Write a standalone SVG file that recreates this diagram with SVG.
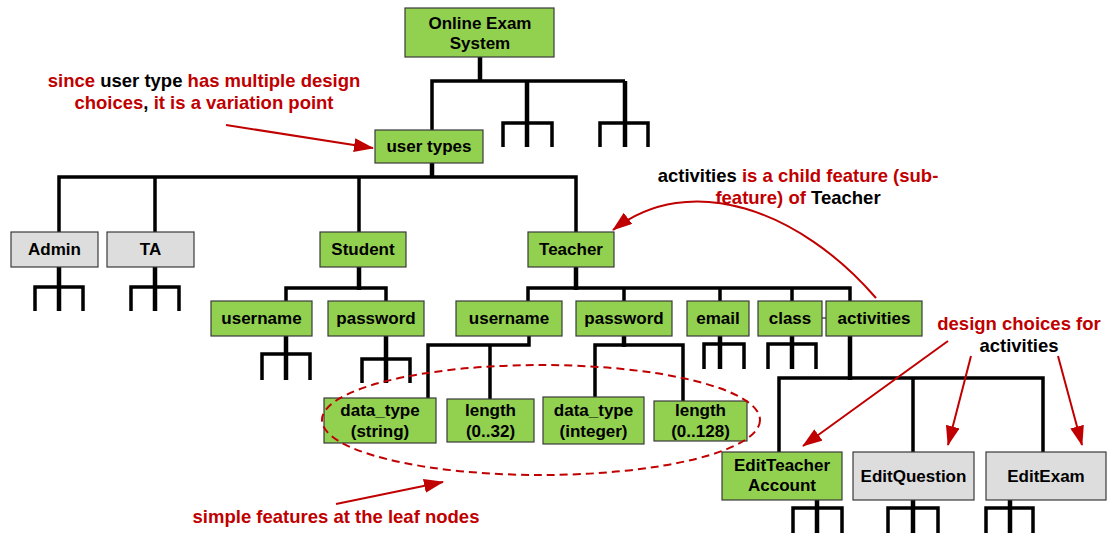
<svg xmlns="http://www.w3.org/2000/svg" width="1107" height="533" viewBox="0 0 1107 533">
  <style>
    .box rect { stroke: #3a3a3a; stroke-width: 1.2; }
    .opt rect { fill: #92D050; }
    .alt rect { fill: #DDDDDD; }
    .box text { font-family: "Liberation Sans", Arial, sans-serif; font-weight: bold; font-size: 17px; fill: #000; text-anchor: middle; }
    .links path { fill: none; stroke: #000; stroke-width: 3.5; stroke-linejoin: miter; stroke-linecap: butt; }
    .links path.stem { stroke-width: 4.5; }
    .links path.thin { stroke-width: 1; }
    .note { font-family: "Liberation Sans", Arial, sans-serif; font-weight: bold; font-size: 18.5px; fill: #C00000; text-anchor: middle; }
    .note .k { fill: #000; }
    .callout path { fill: none; stroke: #C00000; stroke-width: 2; }
  </style>
  <defs>
    <marker id="redhead" viewBox="0 0 20 14" refX="19" refY="7" markerWidth="20" markerHeight="14" markerUnits="userSpaceOnUse" orient="auto">
      <path d="M0,0 L20,7 L0,14 Z" fill="#C00000"/>
    </marker>
  </defs>
  <rect width="1107" height="533" fill="#fff"/>

  <!-- tree connectors -->
  <g id="connectors" class="links">
    <!-- root -->
    <path class="stem" d="M480,57 V81"/>
    <path d="M432,130 V81 H625"/>
    <path class="stem" d="M527,81 V147"/>
    <path d="M503,147 V123 H552 V147"/>
    <path class="stem" d="M625,81 V147"/>
    <path d="M600,147 V123 H648 V147"/>
    <!-- user types -->
    <path class="stem" d="M432,163 V177"/>
    <path d="M59,232 V177 H576 V232"/>
    <path d="M155,177 V232"/>
    <path d="M359,177 V232"/>
    <!-- Admin / TA -->
    <path class="stem" d="M59,267 V311"/>
    <path d="M35,311 V287 H83 V311"/>
    <path class="stem" d="M155,267 V311"/>
    <path d="M131,311 V287 H179 V311"/>
    <!-- Student -->
    <path class="stem" d="M359,267 V290"/>
    <path d="M286,301 V288 H386 V301"/>
    <path class="stem" d="M286,336 V380"/>
    <path d="M262,380 V354 H310 V380"/>
    <path class="stem" d="M386,336 V383"/>
    <path d="M362,383 V359 H410 V383"/>
    <!-- Teacher -->
    <path class="stem" d="M576,267 V290"/>
    <path d="M528,301 V288 H850 V301"/>
    <path d="M624,288 V301"/>
    <path d="M720,288 V301"/>
    <path d="M792,288 V301"/>
    <!-- Teacher username / password -->
    <path d="M529,336 V345 H428 V398"/>
    <path d="M490,345 V399"/>
    <path class="stem" d="M624,336 V347"/>
    <path d="M595,397 V345 H683 V401"/>
    <!-- email / class -->
    <path class="stem" d="M720,336 V369"/>
    <path d="M704,369 V344 H744 V369"/>
    <path class="stem" d="M792,336 V369"/>
    <path d="M768,369 V344 H816 V369"/>
    <path class="thin" d="M822,318 H826"/>
    <!-- activities -->
    <path class="stem" d="M850,336 V380"/>
    <path d="M779,452 V378 H1043 V452"/>
    <path d="M913,378 V452"/>
    <!-- activity children -->
    <path class="stem" d="M817,500 V533"/>
    <path d="M793,533 V508 H842 V533"/>
    <path class="stem" d="M913,500 V533"/>
    <path d="M888,533 V508 H938 V533"/>
    <path class="stem" d="M1010,500 V533"/>
    <path d="M986,533 V508 H1033 V533"/>
  </g>

  <!-- feature nodes -->
  <g id="node-root" class="box opt">
    <rect x="405" y="8" width="149" height="49"/>
    <text x="480" y="29">Online Exam</text>
    <text x="480" y="49">System</text>
  </g>
  <g id="node-user-types" class="box opt">
    <rect x="375" y="130" width="108" height="33"/>
    <text x="429" y="152">user types</text>
  </g>
  <g id="node-admin" class="box alt">
    <rect x="11" y="232" width="87" height="35"/>
    <text x="54.5" y="255">Admin</text>
  </g>
  <g id="node-ta" class="box alt">
    <rect x="107" y="232" width="87" height="35"/>
    <text x="150.5" y="255">TA</text>
  </g>
  <g id="node-student" class="box opt">
    <rect x="320" y="232" width="86" height="35"/>
    <text x="363" y="255">Student</text>
  </g>
  <g id="node-teacher" class="box opt">
    <rect x="528" y="232" width="86" height="35"/>
    <text x="571" y="255">Teacher</text>
  </g>
  <g id="node-student-username" class="box opt">
    <rect x="211" y="301" width="101" height="35"/>
    <text x="261.5" y="324">username</text>
  </g>
  <g id="node-student-password" class="box opt">
    <rect x="328" y="301" width="96" height="35"/>
    <text x="376" y="324">password</text>
  </g>
  <g id="node-teacher-username" class="box opt">
    <rect x="456" y="301" width="106" height="35"/>
    <text x="509" y="324">username</text>
  </g>
  <g id="node-teacher-password" class="box opt">
    <rect x="576" y="301" width="96" height="35"/>
    <text x="624" y="324">password</text>
  </g>
  <g id="node-email" class="box opt">
    <rect x="687" y="301" width="62" height="35"/>
    <text x="718" y="324">email</text>
  </g>
  <g id="node-class" class="box opt">
    <rect x="758" y="301" width="64" height="35"/>
    <text x="790" y="324">class</text>
  </g>
  <g id="node-activities" class="box opt">
    <rect x="826" y="301" width="96" height="35"/>
    <text x="874" y="324">activities</text>
  </g>
  <g id="node-datatype-string" class="box opt">
    <rect x="324" y="398" width="112" height="45"/>
    <text x="380" y="416">data_type</text>
    <text x="380" y="437">(string)</text>
  </g>
  <g id="node-length-32" class="box opt">
    <rect x="447" y="399" width="87" height="43"/>
    <text x="490.5" y="416">length</text>
    <text x="490.5" y="437">(0..32)</text>
  </g>
  <g id="node-datatype-integer" class="box opt">
    <rect x="543" y="397" width="101" height="47"/>
    <text x="593.5" y="416">data_type</text>
    <text x="593.5" y="437">(integer)</text>
  </g>
  <g id="node-length-128" class="box opt">
    <rect x="654" y="401" width="93" height="40"/>
    <text x="700.5" y="416">length</text>
    <text x="700.5" y="437">(0..128)</text>
  </g>
  <g id="node-edit-teacher-account" class="box opt">
    <rect x="722" y="452" width="120" height="48"/>
    <text x="782" y="471">EditTeacher</text>
    <text x="782" y="491">Account</text>
  </g>
  <g id="node-edit-question" class="box alt">
    <rect x="853" y="452" width="121" height="48"/>
    <text x="913.5" y="482">EditQuestion</text>
  </g>
  <g id="node-edit-exam" class="box alt">
    <rect x="986" y="452" width="120" height="48"/>
    <text x="1046" y="482">EditExam</text>
  </g>

  <!-- explanatory notes -->
  <g id="note-variation-point">
    <text class="note" x="204" y="87">since <tspan class="k">user type</tspan> has multiple design</text>
    <text class="note" x="204" y="109">choices<tspan class="k">,</tspan> it is a variation point</text>
    <g class="callout"><path d="M226,125 L373,148" marker-end="url(#redhead)"/></g>
  </g>
  <g id="note-child-feature">
    <text class="note" x="798" y="182"><tspan class="k">activities</tspan> is a child feature (sub-</text>
    <text class="note" x="798" y="204">feature) of <tspan class="k">Teacher</tspan></text>
    <g class="callout"><path d="M876,298 C800,210 690,170 613,230" marker-end="url(#redhead)"/></g>
  </g>
  <g id="note-design-choices">
    <text class="note" x="1019" y="330">design choices for</text>
    <text class="note" x="1019" y="352"><tspan class="k">activities</tspan></text>
    <g class="callout">
      <path d="M948,341 L803,446" marker-end="url(#redhead)"/>
      <path d="M971,356 L948,445" marker-end="url(#redhead)"/>
      <path d="M1058,356 L1082,445" marker-end="url(#redhead)"/>
    </g>
  </g>
  <g id="note-leaf-features">
    <ellipse cx="541" cy="420" rx="219" ry="55" fill="none" stroke="#C00000" stroke-width="2" stroke-dasharray="8,5"/>
    <text class="note" x="336" y="523">simple features at the leaf nodes</text>
    <g class="callout"><path d="M336,504 L443,482" marker-end="url(#redhead)"/></g>
  </g>
</svg>
